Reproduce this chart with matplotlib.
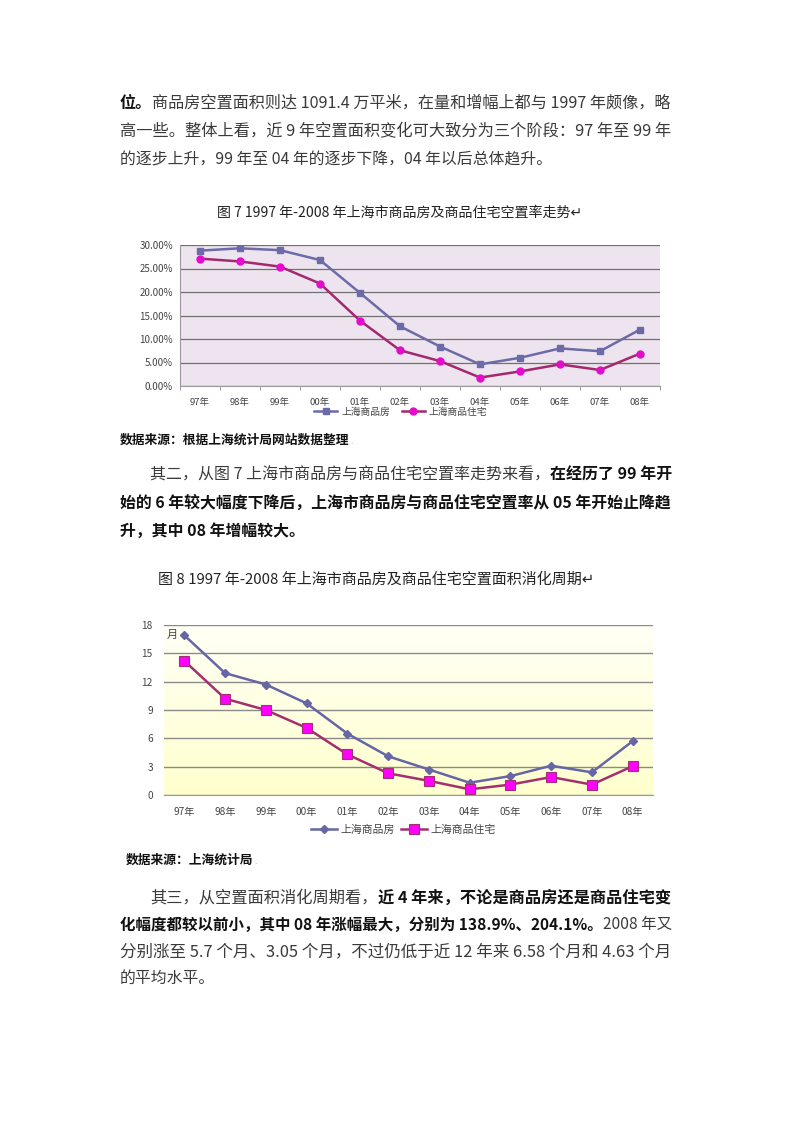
import numpy as np
import matplotlib
matplotlib.use('Agg')
from matplotlib import pyplot as plt
from matplotlib.colors import LinearSegmentedColormap

plt.rcParams['font.family'] = ['Noto Sans CJK SC', 'DejaVu Sans']

# data
years = ['97年', '98年', '99年', '00年', '01年', '02年', '03年', '04年', '05年', '06年', '07年', '08年']
vacancy_all = [28.8, 29.3, 28.9, 26.8, 19.8, 12.7, 8.4, 4.6, 6.0, 8.0, 7.4, 12.0]
vacancy_res = [27.1, 26.5, 25.4, 21.8, 13.9, 7.6, 5.3, 1.8, 3.1, 4.6, 3.4, 6.9]
cycle_all = [16.9, 12.9, 11.7, 9.7, 6.5, 4.1, 2.7, 1.3, 2.0, 3.1, 2.4, 5.7]
cycle_res = [14.2, 10.2, 9.0, 7.1, 4.3, 2.3, 1.5, 0.6, 1.1, 1.9, 1.1, 3.05]
series_names = ['上海商品房', '上海商品住宅']
pct_ticks = [0, 5, 10, 15, 20, 25, 30]
month_ticks = [0, 3, 6, 9, 12, 15, 18]

W, H = 800, 1132
fig = plt.figure(figsize=(W / 100, H / 100), dpi=100)
fig.patch.set_facecolor('white')
renderer = fig.canvas.get_renderer()


def px(x, y):
    return x / W, 1 - y / H


def runs(x, y, parts, size=11.4, right=None):
    # one line of text made of normal / bold pieces; stretched to `right` if given
    texts = []
    for s, bold in parts:
        t = fig.text(*px(x, y), s, fontsize=size, va='center', ha='left',
                     fontweight='bold' if bold else 'normal',
                     color='#111111' if bold else '#3a3a3a')
        texts.append(t)
    widths = [t.get_window_extent(renderer=renderer).width for t in texts]
    if right is not None:
        size = size * (right - x) / sum(widths)
        for t in texts:
            t.set_fontsize(size)
        widths = [t.get_window_extent(renderer=renderer).width for t in texts]
    for t, w in zip(texts, widths):
        t.set_position(px(x, y))
        x += w
    return x


R = 672

# --- text above chart 1
runs(120, 103, [('位。', True), ('商品房空置面积则达 1091.4 万平米，在量和增幅上都与 1997 年颇像，略', False)], right=R)
runs(120, 132, [('高一些。整体上看，近 9 年空置面积变化可大致分为三个阶段：97 年至 99 年', False)], right=R)
runs(120, 160, [('的逐步上升，99 年至 04 年的逐步下降，04 年以后总体趋升。', False)])

fig.text(*px(400, 213), '图 7 1997 年-2008 年上海市商品房及商品住宅空置率走势↵',
         fontsize=10.1, ha='center', va='center', color='#222222')

# --- chart 1
ax1 = fig.add_axes([180 / W, 1 - 386 / H, 480 / W, 141 / H])
ax1.set_facecolor('#eee4ef')
x = np.arange(len(years))
ax1.plot(x, vacancy_all, color='#6b6ba8', lw=1.8, marker='s', ms=4.5, label=series_names[0])
ax1.plot(x, vacancy_res, color='#a3286e', lw=1.8, marker='o', ms=5,
         mfc='#e40ccc', mec='#e40ccc', label=series_names[1])
ax1.set_xlim(-0.5, len(years) - 0.5)
ax1.set_ylim(0, 30)
ax1.set_yticks(pct_ticks)
ax1.set_yticklabels(['%.2f%%' % v for v in pct_ticks], fontsize=7, color='#444444')
ax1.set_xticks(x)
ax1.set_xticklabels(years, fontsize=6.8, color='#444444')
ax1.tick_params(axis='x', which='major', length=0, pad=9)
ax1.set_xticks(np.arange(-0.5, len(years), 1), minor=True)
ax1.tick_params(axis='x', which='minor', length=3, color='#888888', direction='out')
ax1.tick_params(axis='y', length=0, pad=5)
ax1.grid(axis='y', color='#707070', lw=0.9)
ax1.set_axisbelow(True)
for side in ['top', 'right']:
    ax1.spines[side].set_visible(False)
for side in ['left', 'bottom']:
    ax1.spines[side].set_color('#9a9a9a')
ax1.legend(loc='upper center', bbox_to_anchor=(0.46, -0.085), ncol=2, frameon=False,
           fontsize=7, handlelength=2.4, columnspacing=1.2, handletextpad=0.4,
           labelcolor='#444444')

xe = runs(120, 440, [('数据来源：根据上海统计局网站数据整理', True)], size=9.2)
fig.text(*px(xe + 1, 442), '.', fontsize=6, color='#999999', va='center')

# --- middle paragraph
runs(150, 475, [('其二，从图 7 上海市商品房与商品住宅空置率走势来看，', False), ('在经历了 99 年开', True)], right=R)
runs(120, 503, [('始的 6 年较大幅度下降后，上海市商品房与商品住宅空置率从 05 年开始止降趋', True)], right=R)
runs(120, 531, [('升，其中 08 年增幅较大。', True)])

fig.text(*px(158, 579), '图 8 1997 年-2008 年上海市商品房及商品住宅空置面积消化周期↵',
         fontsize=10.8, ha='left', va='center', color='#222222')

# --- chart 2
ax2 = fig.add_axes([164 / W, 1 - 795 / H, 489 / W, 170 / H])
grad = np.linspace(0, 1, 256).reshape(-1, 1)
cmap = LinearSegmentedColormap.from_list('bg', ['#ffffce', '#fffff6'])
ax2.imshow(grad, cmap=cmap, aspect='auto', extent=[-0.5, len(years) - 0.5, 0, 18],
           origin='lower', zorder=0)
ax2.plot(x, cycle_all, color='#6666a6', lw=1.8, marker='D', ms=4.5, label=series_names[0], zorder=3)
ax2.plot(x, cycle_res, color='#a3306e', lw=1.8, marker='s', ms=7,
         mfc='#ff00ff', mec='#a3306e', mew=0.8, label=series_names[1], zorder=3)
ax2.set_xlim(-0.5, len(years) - 0.5)
ax2.set_ylim(0, 18)
ax2.set_yticks(month_ticks)
ax2.set_yticklabels([str(v) for v in month_ticks], fontsize=7.3, color='#444444')
ax2.set_xticks(x)
ax2.set_xticklabels(years, fontsize=7.3, color='#444444')
ax2.tick_params(axis='x', length=0, pad=9)
ax2.tick_params(axis='y', length=0, pad=8)
ax2.grid(axis='y', color='#8a8a8a', lw=1.0, zorder=1)
for side in ['top', 'right', 'left']:
    ax2.spines[side].set_visible(False)
ax2.spines['bottom'].set_color('#9a9a9a')
ax2.text(0.005, 0.94, '月', transform=ax2.transAxes, fontsize=8, color='#444444',
         ha='left', va='center')
ax2.legend(loc='upper center', bbox_to_anchor=(0.49, -0.118), ncol=2, frameon=False,
           fontsize=7.8, handlelength=2.4, columnspacing=0.6, handletextpad=0.3,
           labelcolor='#444444')

xe = runs(126, 860, [('数据来源：上海统计局', True)], size=9.2)
fig.text(*px(xe + 1, 862), '.', fontsize=6, color='#999999', va='center')

# --- bottom paragraph
runs(150, 898, [('其三，从空置面积消化周期看，', False), ('近 4 年来，不论是商品房还是商品住宅变', True)], right=R)
runs(120, 925, [('化幅度都较以前小，其中 08 年涨幅最大，分别为 138.9%、204.1%。', True), ('2008 年又', False)], right=R)
runs(120, 952, [('分别涨至 5.7 个月、3.05 个月，不过仍低于近 12 年来 6.58 个月和 4.63 个月', False)], right=R)
runs(120, 978, [('的平均水平。', False)])

fig.savefig('out.png', dpi=100, facecolor='white')
